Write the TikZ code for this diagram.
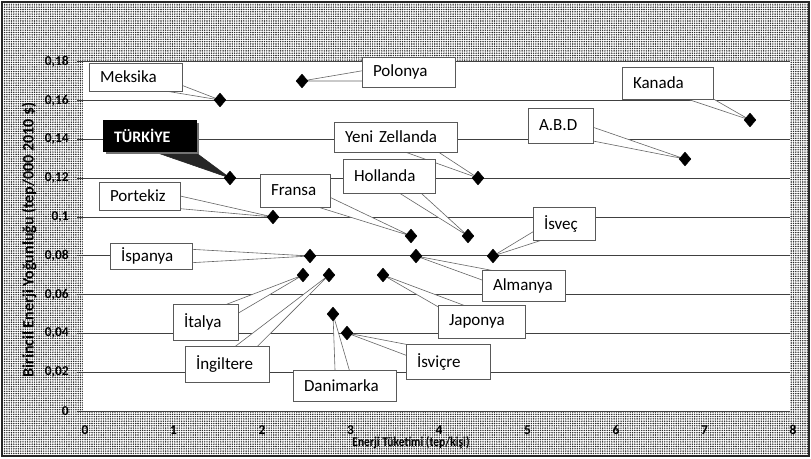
\documentclass[tikz,border=0pt]{standalone}
\usepackage{fontspec}
\usepackage{graphicx}
\setmainfont{Carlito}
\usetikzlibrary{shapes.geometric,calc,patterns.meta}
\pgfdeclarelayer{ptrlayer}
\pgfdeclarelayer{toplayer}
\pgfsetlayers{main,ptrlayer,toplayer}
\tikzset{
  lbl/.style={draw=black!65, line width=0.8pt, fill=white, inner xsep=11pt, inner ysep=0pt, align=left, font=\fontsize{17}{20}\selectfont},
  turbox/.style={draw=black, line width=0.7pt, fill=black, text=white, inner xsep=11pt, inner ysep=0pt, align=left, font=\bfseries\fontsize{16}{19}\selectfont},
  turshadow/.style={fill=black!55, draw=none},
  dot/.style={diamond, fill=black, draw=black, inner sep=0pt, minimum width=12pt, minimum height=14pt},
  wedge/.style={draw=black!60, line width=0.6pt, fill=white, line join=round},
  darkwedge/.style={draw=black!85, line width=0.6pt, fill=black!85, line join=round},
  gline/.style={draw=black!75, line width=0.9pt},
  ticklbl/.style={font=\bfseries\fontsize{13.5}{16}\selectfont, inner sep=0pt},
  chartbg/.style={pattern={Dots[distance=2.3pt, radius=0.8pt]}, pattern color=black!85, draw=black!85, line width=1.5pt, inner sep=0pt, outer sep=0pt, anchor=north west},
  plotbg/.style={fill=white, draw=none, inner sep=0pt, outer sep=0pt, anchor=north west},
}
\newcommand{\callwedge}[4]{\draw[#1] ($(#3.center)!#2!90:(#4.center)$) -- (#4.center) -- ($(#3.center)!#2!-90:(#4.center)$) -- cycle;}
\begin{document}
\begin{tikzpicture}[x=1pt,y=-1pt]
\useasboundingbox (0,0) rectangle (811,458);
\node[chartbg, minimum width=807pt, minimum height=454pt] (chart) at (2,2) {};
\node[plotbg, minimum width=707pt, minimum height=349pt] (plotarea) at (83,62) {};
\foreach \i in {0,...,9} \draw[gline] (77,{411-38.8*\i}) -- (790,{411-38.8*\i});

% y tick labels
\node[ticklbl, anchor=east] (y0)  at (69,411)   {0};
\node[ticklbl, anchor=east] (y1)  at (69,372.2) {0,02};
\node[ticklbl, anchor=east] (y2)  at (69,333.4) {0,04};
\node[ticklbl, anchor=east] (y3)  at (69,294.6) {0,06};
\node[ticklbl, anchor=east] (y4)  at (69,255.8) {0,08};
\node[ticklbl, anchor=east] (y5)  at (69,217)   {0,1};
\node[ticklbl, anchor=east] (y6)  at (69,178.2) {0,12};
\node[ticklbl, anchor=east] (y7)  at (69,139.4) {0,14};
\node[ticklbl, anchor=east] (y8)  at (69,100.6) {0,16};
\node[ticklbl, anchor=east] (y9)  at (69,61.8)  {0,18};
% x tick labels
\foreach \i in {0,...,8} \node[ticklbl] (x\i) at ({85+88.5*\i},430) {\i};

% axis titles
\node[font=\bfseries\fontsize{16}{18}\selectfont, rotate=90, inner sep=0pt] (ytitle) at (29,240) {Birincil Enerji Yoğunluğu (tep/000 2010 \$)};
\node[inner sep=0pt] (xtitle) at (411,443) {\scalebox{0.85}[1]{\bfseries\fontsize{13.5}{15}\selectfont Enerji Tüketimi (tep/kişi)}};

\begin{pgfonlayer}{toplayer}
% label boxes
\node[lbl, text width=71pt, minimum height=28pt] (mek) at (135.5,77)  {Meksika};
\node[lbl, text width=71pt, minimum height=30pt] (pol) at (408.5,72)  {Polonya};
\node[lbl, text width=69pt, minimum height=32pt] (kan) at (667.5,83)  {Kanada};
\node[lbl, text width=43pt, minimum height=35pt] (abd) at (560.5,125.5) {A.B.D};
\node[lbl, text width=101pt, minimum height=30pt] (yz) at (395.5,137) {Yeni Zellanda};
\node[lbl, text width=70pt, minimum height=34pt] (hol) at (389,176)   {Hollanda};
\node[lbl, text width=48pt, minimum height=33pt] (fra) at (295,190.5) {Fransa};
\node[lbl, text width=59pt, minimum height=28pt] (por) at (139.5,196) {Portekiz};
\node[lbl, text width=40pt, minimum height=33pt] (isv) at (564,223.5) {İsveç};
\node[lbl, text width=60pt, minimum height=26pt] (isp) at (151,256)   {İspanya};
\node[lbl, text width=61pt, minimum height=31pt] (alm) at (523.5,285.5) {Almanya};
\node[lbl, text width=65pt, minimum height=33pt] (jap) at (481.5,321.5) {Japonya};
\node[lbl, text width=43pt, minimum height=36pt] (ita) at (205.5,322) {İtalya};
\node[lbl, text width=62pt, minimum height=36pt] (ing) at (227,364)   {İngiltere};
\node[lbl, text width=81pt, minimum height=31pt] (dan) at (344.5,385.5) {Danimarka};
\node[lbl, text width=62pt, minimum height=35pt] (isc) at (448,361.5) {İsviçre};
\fill[turshadow] (106,123) rectangle (199,154);
\node[turbox, text width=71pt, minimum height=31pt] (tur) at (149.5,135.5) {TÜRKİYE};

% data points
\node[dot] (p-mek) at (220,100) {};
\node[dot] (p-pol) at (302,81) {};
\node[dot] (p-tur) at (230,178) {};
\node[dot] (p-por) at (273,217) {};
\node[dot] (p-yz)  at (478,178) {};
\node[dot] (p-abd) at (685,159) {};
\node[dot] (p-kan) at (750,120) {};
\node[dot] (p-fra) at (411,236) {};
\node[dot] (p-hol) at (468,236) {};
\node[dot] (p-isv) at (493,256) {};
\node[dot] (p-alm) at (416,256) {};
\node[dot] (p-isp) at (310,256) {};
\node[dot] (p-ita) at (303,275) {};
\node[dot] (p-ing) at (329,275) {};
\node[dot] (p-jap) at (383,275) {};
\node[dot] (p-dan) at (333,314) {};
\node[dot] (p-isc) at (347,333) {};
\end{pgfonlayer}

% callout wedges
\begin{pgfonlayer}{ptrlayer}
  \callwedge{wedge}{9pt}{mek}{p-mek}
  \callwedge{wedge}{9pt}{pol}{p-pol}
  \callwedge{wedge}{9pt}{kan}{p-kan}
  \callwedge{wedge}{9pt}{abd}{p-abd}
  \callwedge{wedge}{11pt}{yz}{p-yz}
  \callwedge{wedge}{9pt}{hol}{p-hol}
  \callwedge{wedge}{9pt}{fra}{p-fra}
  \callwedge{wedge}{9pt}{por}{p-por}
  \callwedge{wedge}{9pt}{isv}{p-isv}
  \callwedge{wedge}{9pt}{isp}{p-isp}
  \callwedge{wedge}{9pt}{alm}{p-alm}
  \callwedge{wedge}{9pt}{jap}{p-jap}
  \callwedge{wedge}{9pt}{ita}{p-ita}
  \callwedge{wedge}{9pt}{ing}{p-ing}
  \callwedge{wedge}{9pt}{dan}{p-dan}
  \callwedge{wedge}{9pt}{isc}{p-isc}
  \callwedge{darkwedge}{14pt}{tur}{p-tur}
\end{pgfonlayer}
\end{tikzpicture}
\end{document}
